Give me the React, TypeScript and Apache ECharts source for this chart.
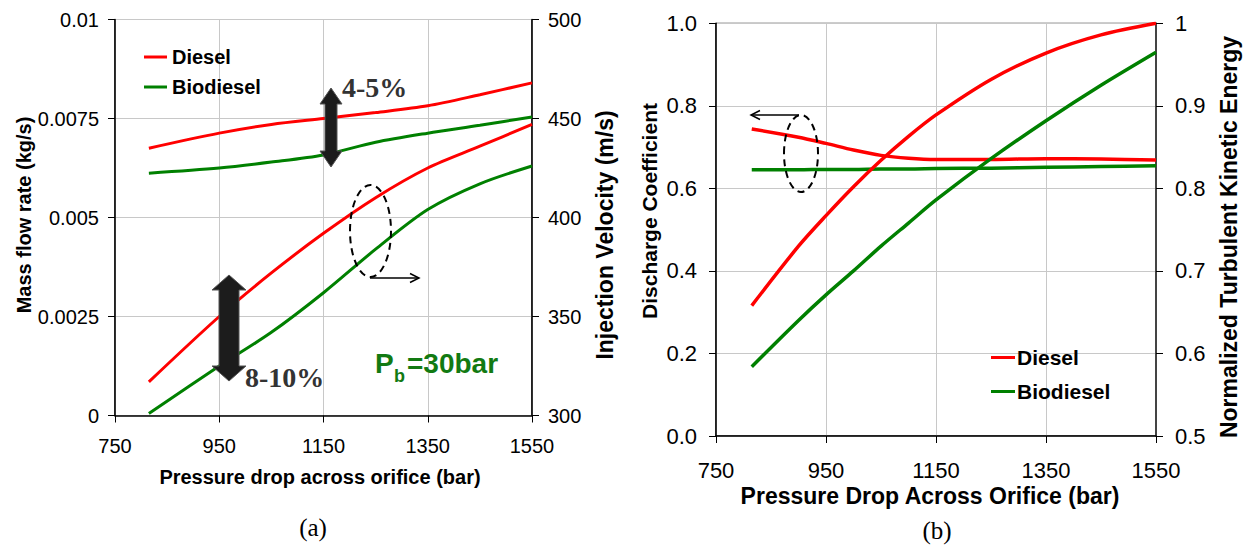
import React, { useEffect, useRef } from "react";
import * as echarts from "echarts";

// ---------- data (a): mass flow rate & injection velocity ----------
const pressureA = [815, 950, 1050, 1150, 1250, 1350, 1450, 1550];
const dieselMassFlow = [0.00675, 0.00713, 0.00735, 0.0075, 0.00765, 0.00782, 0.0081, 0.0084];
const biodieselMassFlow = [0.00612, 0.00625, 0.0064, 0.00658, 0.0069, 0.00713, 0.00733, 0.00754];
const dieselVelocity = [317, 350, 372, 392, 410, 425, 436, 447];
const biodieselVelocity = [301, 325, 342, 362, 384, 404, 417, 426];

// ---------- data (b): discharge coefficient & normalized TKE ----------
const pressureB = [815, 900, 950, 1000, 1050, 1100, 1150, 1250, 1350, 1450, 1550];
const dieselCd = [0.744, 0.724, 0.709, 0.693, 0.68, 0.673, 0.67, 0.67, 0.672, 0.671, 0.669];
const biodieselCd = [0.645, 0.645, 0.646, 0.646, 0.647, 0.647, 0.648, 0.649, 0.651, 0.653, 0.655];
const dieselTke = [0.658, 0.73, 0.767, 0.802, 0.834, 0.863, 0.889, 0.932, 0.964, 0.986, 1.0];
const biodieselTke = [0.584, 0.64, 0.671, 0.7, 0.73, 0.758, 0.786, 0.836, 0.882, 0.925, 0.965];

const seriesNames = ["Diesel", "Biodiesel"];
const xTicks = { min: 750, max: 1550, interval: 200 };

const RED = "#ff0000";
const GREEN = "#008000";
const FONT = "Liberation Sans, Arial, sans-serif";
const SERIF = "Liberation Serif, Times New Roman, serif";

const zip = (xs: number[], ys: number[]) => xs.map((x, i) => [x, ys[i]]);

function lineSeries(name: string, color: string, xi: number, yi: number, data: number[][], width = 3) {
  return {
    type: "line",
    name,
    xAxisIndex: xi,
    yAxisIndex: yi,
    data,
    smooth: 0.3,
    showSymbol: false,
    symbol: "none",
    lineStyle: { color, width },
    itemStyle: { color },
    z: 3,
  };
}

function dblArrow(cx: number, top: number, bottom: number, sh: number, hh: number, hl: number) {
  return {
    type: "polygon",
    z: 100,
    shape: {
      points: [
        [cx, top],
        [cx + hh, top + hl],
        [cx + sh, top + hl],
        [cx + sh, bottom - hl],
        [cx + hh, bottom - hl],
        [cx, bottom],
        [cx - hh, bottom - hl],
        [cx - sh, bottom - hl],
        [cx - sh, top + hl],
        [cx - hh, top + hl],
      ],
    },
    style: { fill: "#1c1c1c", stroke: "#555", lineWidth: 1 },
  };
}

function vText(text: string, x: number, y: number, size: number) {
  return {
    type: "text",
    z: 100,
    x,
    y,
    rotation: Math.PI / 2,
    style: {
      text,
      x: 0,
      y: 0,
      textAlign: "center",
      textVerticalAlign: "middle",
      font: `bold ${size}px ${FONT}`,
      fill: "#000",
    },
  };
}

function hText(text: string, x: number, y: number, font: string, fill = "#000", align = "center") {
  return {
    type: "text",
    z: 100,
    style: { text, x, y, textAlign: align, textVerticalAlign: "middle", font, fill },
  };
}

export default function App() {
  const ref = useRef<HTMLDivElement>(null);

  useEffect(() => {
    if (!ref.current) return;
    const chart = echarts.init(ref.current, undefined, { renderer: "svg" });

    const axisCommon = (fontSize: number, margin: number) => ({
      axisLine: { show: true, onZero: false, lineStyle: { color: "#000", width: 1.5 } },
      axisTick: { show: true, length: 7, inside: false, lineStyle: { color: "#000", width: 1 } },
      axisLabel: { fontSize, color: "#000", margin, fontFamily: FONT, formatter: (v: number) => String(v) },
    });

    const option: any = {
      animation: false,
      backgroundColor: "#fff",
      grid: [
        { left: 115, top: 19.5, width: 417, height: 396, show: true, borderColor: "#000", borderWidth: 1, backgroundColor: "transparent" },
        { left: 716, top: 23.3, width: 440, height: 412.7, show: true, borderColor: "#000", borderWidth: 1, backgroundColor: "transparent" },
      ],
      xAxis: [
        {
          gridIndex: 0,
          type: "value",
          ...xTicks,
          ...axisCommon(20, 20),
          splitLine: { show: true, lineStyle: { color: "#c8c8c8", width: 1 } },
        },
        {
          gridIndex: 1,
          type: "value",
          ...xTicks,
          ...axisCommon(22, 23),
          splitLine: { show: true, lineStyle: { color: "#c8c8c8", width: 1 } },
        },
      ],
      yAxis: [
        {
          gridIndex: 0,
          type: "value",
          position: "left",
          min: 0,
          max: 0.01,
          interval: 0.0025,
          ...axisCommon(20, 16),
          axisLabel: { fontSize: 20, color: "#000", margin: 16, fontFamily: FONT, formatter: (v: number) => String(+v.toFixed(4)) },
          splitLine: { show: true, lineStyle: { color: "#c8c8c8", width: 1 } },
        },
        {
          gridIndex: 0,
          type: "value",
          position: "right",
          min: 300,
          max: 500,
          interval: 50,
          ...axisCommon(20, 16),
          splitLine: { show: false },
        },
        {
          gridIndex: 1,
          type: "value",
          position: "left",
          min: 0,
          max: 1,
          interval: 0.2,
          ...axisCommon(22, 19),
          axisLabel: { fontSize: 22, color: "#000", margin: 19, fontFamily: FONT, formatter: (v: number) => v.toFixed(1) },
          splitLine: { show: true, lineStyle: { color: "#c8c8c8", width: 1 } },
        },
        {
          gridIndex: 1,
          type: "value",
          position: "right",
          min: 0.5,
          max: 1,
          interval: 0.1,
          axisLine: { show: true, onZero: false, lineStyle: { color: "#444", width: 2 } },
          axisTick: { show: true, length: 7, lineStyle: { color: "#000", width: 1 } },
          axisLabel: {
            fontSize: 22,
            color: "#000",
            margin: 19,
            fontFamily: FONT,
            formatter: (v: number) => (Math.abs(v - 1) < 1e-9 ? "1" : v.toFixed(1)),
          },
          splitLine: { show: false },
        },
      ],
      legend: [
        {
          data: seriesNames,
          orient: "vertical",
          left: 139,
          top: 42,
          icon: "rect",
          itemWidth: 23,
          itemHeight: 3,
          itemGap: 10,
          selectedMode: false,
          textStyle: { fontSize: 20, fontWeight: "bold", color: "#000", fontFamily: FONT },
        },
        {
          data: seriesNames,
          orient: "vertical",
          left: 986,
          top: 342,
          icon: "rect",
          itemWidth: 24,
          itemHeight: 3,
          itemGap: 13,
          selectedMode: false,
          textStyle: { fontSize: 21, fontWeight: "bold", color: "#000", fontFamily: FONT, padding: [0, 0, 0, -3] },
        },
      ],
      series: [
        lineSeries(seriesNames[0], RED, 0, 0, zip(pressureA, dieselMassFlow)),
        lineSeries(seriesNames[1], GREEN, 0, 0, zip(pressureA, biodieselMassFlow)),
        lineSeries(seriesNames[0], RED, 0, 1, zip(pressureA, dieselVelocity)),
        lineSeries(seriesNames[1], GREEN, 0, 1, zip(pressureA, biodieselVelocity)),
        lineSeries(seriesNames[0], RED, 1, 2, zip(pressureB, dieselCd), 3.5),
        lineSeries(seriesNames[1], GREEN, 1, 2, zip(pressureB, biodieselCd), 3.5),
        lineSeries(seriesNames[0], RED, 1, 3, zip(pressureB, dieselTke), 3.5),
        lineSeries(seriesNames[1], GREEN, 1, 3, zip(pressureB, biodieselTke), 3.5),
      ],
      graphic: [
        // axis titles
        vText("Mass flow rate (kg/s)", 24, 215, 20),
        vText("Injection Velocity (m/s)", 605, 235, 23),
        vText("Discharge Coefficient", 649, 211, 21),
        vText("Normalized Turbulent Kinetic Energy", 1229, 237, 23),
        hText("Pressure drop across orifice (bar)", 320, 477, `bold 20px ${FONT}`),
        hText("Pressure Drop Across Orifice (bar)", 930, 496, `bold 23px ${FONT}`),
        hText("(a)", 313, 527, `25px ${SERIF}`),
        hText("(b)", 937, 530, `25px ${SERIF}`),
        // annotations (a)
        dblArrow(331, 88, 167, 6, 11, 16),
        dblArrow(229, 275, 381, 10, 17, 15),
        hText("4-5%", 342, 87, `bold 28px ${SERIF}`, "#333", "left"),
        hText("8-10%", 245, 377, `bold 28px ${SERIF}`, "#333", "left"),
        hText("P", 375, 363, `bold 28px ${FONT}`, "#127a12", "left"),
        hText("b", 394, 376, `bold 18px ${FONT}`, "#127a12", "left"),
        hText("=30bar", 407, 363, `bold 28px ${FONT}`, "#127a12", "left"),
        {
          type: "ellipse",
          z: 100,
          shape: { cx: 370.5, cy: 231, rx: 20.5, ry: 46 },
          style: { fill: "none", stroke: "#000", lineWidth: 2, lineDash: [7, 5] },
        },
        {
          type: "line",
          z: 100,
          shape: { x1: 370, y1: 278, x2: 419, y2: 278 },
          style: { stroke: "#000", lineWidth: 1.5 },
        },
        {
          type: "polyline",
          z: 100,
          shape: { points: [[410, 273.5], [419, 278], [410, 282.5]] },
          style: { stroke: "#000", lineWidth: 1.5, fill: "none" },
        },
        // annotations (b)
        {
          type: "ellipse",
          z: 100,
          shape: { cx: 801, cy: 153.5, rx: 17, ry: 38.5 },
          style: { fill: "none", stroke: "#000", lineWidth: 2, lineDash: [7, 5] },
        },
        {
          type: "line",
          z: 100,
          shape: { x1: 799, y1: 115, x2: 751, y2: 115 },
          style: { stroke: "#000", lineWidth: 1.5 },
        },
        {
          type: "polyline",
          z: 100,
          shape: { points: [[760, 110.5], [751, 115], [760, 119.5]] },
          style: { stroke: "#000", lineWidth: 1.5, fill: "none" },
        },
      ],
    };

    chart.setOption(option);
    return () => chart.dispose();
  }, []);

  return (
    <div
      ref={ref}
      style={{ position: "absolute", left: 0, top: 0, width: 1247, height: 545, background: "#fff" }}
    />
  );
}
